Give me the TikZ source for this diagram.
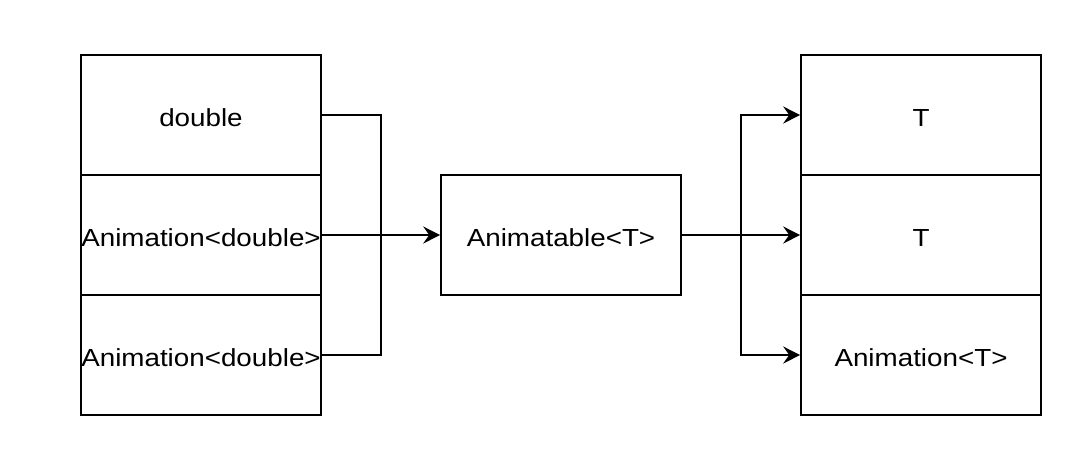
\documentclass[tikz,border=0pt]{standalone}
\usepackage{fontspec}
\setmainfont{Liberation Sans}[FakeStretch=1.125]
\usetikzlibrary{arrows.meta}

\begin{document}
\begin{tikzpicture}[x=1pt, y=-1pt,
	cell/.style={draw, line width=1.6pt, minimum width=240pt, minimum height=120pt, inner sep=0pt, text height=22pt, text depth=0pt, font=\fontsize{24.7}{30}\selectfont},
	link/.style={line width=1.6pt},
	arr/.style={link, -{Stealth[length=17pt, width=17pt, inset=6pt]}}]
			%%%%% START %%%%%
			
			\useasboundingbox (0, 0) rectangle (1086, 450);
			
			\node[cell] (dbl) at (201, 115) {double};
			\node[cell] (animA) at (201, 235) {Animation<double>};
			\node[cell] (animB) at (201, 355) {Animation<double>};
			
			\node[cell] (ani) at (561, 235) {Animatable<T>};
			
			\node[cell] (tA) at (921, 115) {T};
			\node[cell] (tB) at (921, 235) {T};
			\node[cell] (animT) at (921, 355) {Animation<T>};
			
			\coordinate (inJoin) at (381, 235);
			\coordinate (outJoin) at (741, 235);
			
			\draw[link] (dbl.east) -| (inJoin);
			\draw[link] (animB.east) -| (inJoin);
			\draw[arr] (animA.east) -- (ani.west);
			
			\draw[arr] (ani.east) -- (tB.west);
			\draw[arr] (outJoin) |- (tA.west);
			\draw[arr] (outJoin) |- (animT.west);
			
			%%%%% END %%%%%
\end{tikzpicture}
\end{document}
